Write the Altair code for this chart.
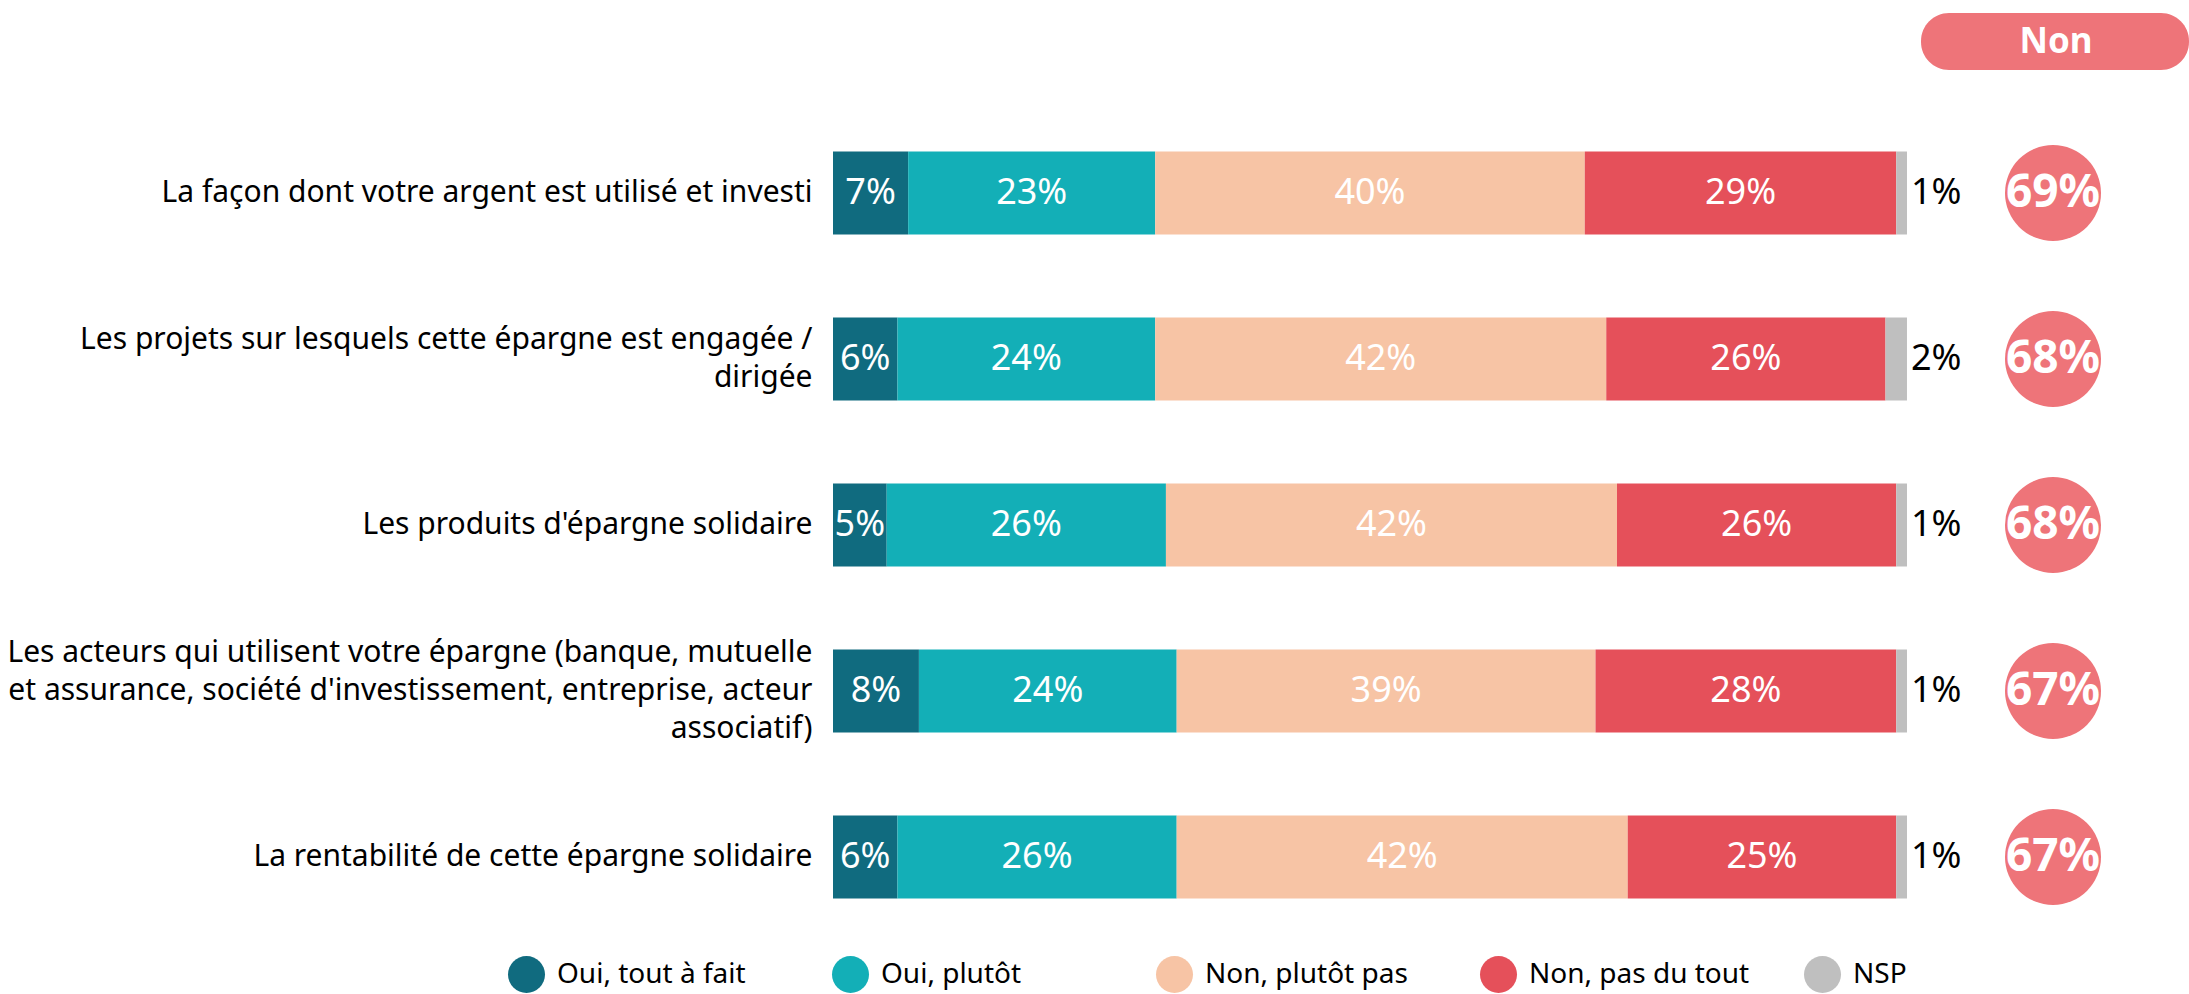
import altair as alt
import pandas as pd

questions = [
    "La façon dont votre argent est utilisé et investi",
    "Les projets sur lesquels cette épargne est engagée /|dirigée",
    "Les produits d'épargne solidaire",
    "Les acteurs qui utilisent votre épargne (banque, mutuelle|et assurance, société d'investissement, entreprise, acteur|associatif)",
    "La rentabilité de cette épargne solidaire",
]
series = ["Oui, tout à fait", "Oui, plutôt", "Non, plutôt pas", "Non, pas du tout", "NSP"]
oui_tout = [7, 6, 5, 8, 6]
oui_plutot = [23, 24, 26, 24, 26]
non_plutot = [40, 42, 42, 39, 42]
non_pas = [29, 26, 26, 28, 25]
nsp = [1, 2, 1, 1, 1]
non_total = [69, 68, 68, 67, 67]
header = ["Non"]

colors = ["#106B7F", "#13AFB7", "#F7C4A5", "#E5505A", "#BFBFBF"]
pink = "#EE7479"
FONT = "Noto Sans"

rows = []
for i, q in enumerate(questions):
    for j, vals in enumerate([oui_tout, oui_plutot, non_plutot, non_pas, nsp]):
        rows.append({"question": q, "series": series[j], "order": j, "value": vals[i]})
df = pd.DataFrame(rows)
tot = pd.DataFrame({"question": questions, "non": non_total})
hdr = pd.DataFrame({"h": header})

W, H = 1356, 830
LH = 38
xscale = alt.Scale(domain=[0, 126.26], nice=False, zero=True)
yenc = alt.Y(
    "question:N",
    sort=questions,
    scale=alt.Scale(paddingInner=0.5, paddingOuter=0.25),
    axis=alt.Axis(
        title=None, labelExpr="split(datum.label, '|')", domain=False, ticks=False,
        labelPadding=21, labelFontSize=30, labelFont=FONT, labelColor="#000000",
        labelLimit=2000, labelLineHeight=LH,
        labelOffset={
            "condition": [
                {"test": "length(split(datum.value, '|')) == 3", "value": -LH},
                {"test": "length(split(datum.value, '|')) == 2", "value": -LH / 2},
            ],
            "value": 0,
        },
    ),
)

bars = alt.Chart(df).mark_bar().encode(
    x=alt.X("value:Q", stack="zero", scale=xscale, axis=None),
    y=yenc,
    color=alt.Color(
        "series:N",
        scale=alt.Scale(domain=series, range=colors),
        legend=alt.Legend(
            title=None, orient="none", legendX=-325, legendY=846, direction="horizontal",
            columns=5, gridAlign="all", columnPadding=54, symbolType="circle",
            symbolSize=1369, symbolStrokeWidth=0, labelFontSize=28, labelFont=FONT,
            labelColor="#000000", labelOffset=12, padding=0, labelLimit=1000,
        ),
    ),
    order=alt.Order("order:Q"),
)

stacked = alt.Chart(df).transform_stack(
    stack="value", groupby=["question"], as_=["v0", "v1"], sort=[alt.SortField("order")]
).transform_calculate(mid="(datum.v0 + datum.v1) / 2", lbl="datum.value + '%'")

inner = stacked.transform_filter("datum.series != 'NSP'").mark_text(
    color="white", fontSize=36, font=FONT, baseline="middle"
).encode(x=alt.X("mid:Q", scale=xscale), y=yenc, text="lbl:N")

outer = stacked.transform_filter("datum.series == 'NSP'").mark_text(
    color="black", fontSize=36, font=FONT, align="left", dx=4, baseline="middle"
).encode(x=alt.X("v1:Q", scale=xscale), y=yenc, text="lbl:N")

circles = alt.Chart(tot).mark_circle(size=9216, color=pink, opacity=1).encode(
    x=alt.value(1220), y=yenc
)
circ_text = alt.Chart(tot).transform_calculate(lbl="datum.non + '%'").mark_text(
    color="white", fontSize=46, fontWeight="bold", font=FONT, baseline="middle"
).encode(x=alt.value(1220), y=yenc, text="lbl:N")

pill = alt.Chart(hdr).mark_rect(color=pink, cornerRadius=28).encode(
    x=alt.value(1088), x2=alt.value(1356), y=alt.value(-97), y2=alt.value(-40)
)
pill_text = alt.Chart(hdr).mark_text(
    color="white", fontSize=35, fontWeight="bold", font=FONT, baseline="middle"
).encode(x=alt.value(1223), y=alt.value(-68), text="h:N")

chart = alt.layer(bars, inner, outer, circles, circ_text, pill, pill_text).properties(
    width=W, height=H,
    autosize=alt.AutoSizeParams(type="none"),
    padding={"left": 833, "top": 110, "right": 0, "bottom": 54},
).configure(font=FONT, background="white").configure_view(stroke=None, strokeWidth=0)

chart.save("out.html", embed_options={"renderer": "svg", "actions": False})
